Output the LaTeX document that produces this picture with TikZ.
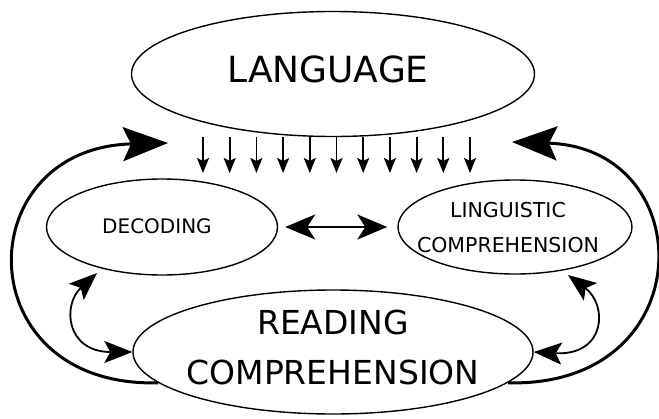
\documentclass[tikz,border=0pt]{standalone}
\usepackage{fontspec}
\setmainfont{DejaVu Sans}
\usetikzlibrary{shapes.geometric,arrows.meta}
\begin{document}
\begin{tikzpicture}[x=1pt,y=-1pt,
  oval/.style={draw, ellipse, line width=1.4pt, inner sep=0pt},
  lbl/.style={align=center, inner sep=0pt},
  downarr/.style={line width=1.8pt, -{Stealth[length=15pt,width=12pt,inset=3pt]}},
  bigarr/.style={line width=3pt, -{Stealth[length=45pt,width=34pt,inset=8pt]}},
  midarr/.style={line width=2.2pt, {Stealth[length=30pt,width=25pt,inset=8pt]}-{Stealth[length=30pt,width=25pt,inset=8pt]}},
  curvarr/.style={line width=1.8pt, {Stealth[length=28pt,width=22pt,inset=6pt]}-{Stealth[length=28pt,width=22pt,inset=6pt]}}]
\useasboundingbox (0,0) rectangle (659,418);
\node[oval, minimum width=403pt, minimum height=125pt] (lang) at (333,74) {};
\node[lbl, font=\fontsize{36}{40}\selectfont] (langt) at (328,69) {LANGUAGE};
\node[oval, minimum width=231pt, minimum height=96pt] (dec) at (162,227) {};
\node[lbl, font=\fontsize{20}{24}\selectfont] (dect) at (157,226) {DECODING};
\node[oval, minimum width=234pt, minimum height=94pt] (lc) at (515,227) {};
\node[lbl, font=\fontsize{20.5}{35}\selectfont] (lct) at (508,228) {LINGUISTIC\\COMPREHENSION};
\node[oval, minimum width=400pt, minimum height=124pt] (rc) at (333,352) {};
\node[lbl, font=\fontsize{33}{50}\selectfont] (rct) at (333,347) {READING\\COMPREHENSION};
\foreach \i in {0,...,10}
  \draw[downarr] ({203+26.7*\i},137) -- ({203+26.7*\i},173);
\draw[midarr] ([xshift=7pt]dec.east) -- ([xshift=-10pt]lc.west);
\coordinate (ltip) at (168,143);
\coordinate (rtip) at (512,142);
\draw[bigarr] (rc.190) .. controls (-33,388) and (-33,148) .. (ltip);
\draw[bigarr] (rc.-10) .. controls (702,388) and (702,148) .. (rtip);
\coordinate (dtip) at (97,273);
\coordinate (ltip2) at (568,275);
\draw[curvarr] (dtip) .. controls (62,305) and (66,352) .. (rc.west);
\draw[curvarr] (ltip2) .. controls (608,305) and (606,356) .. (rc.east);
\end{tikzpicture}
\end{document}
